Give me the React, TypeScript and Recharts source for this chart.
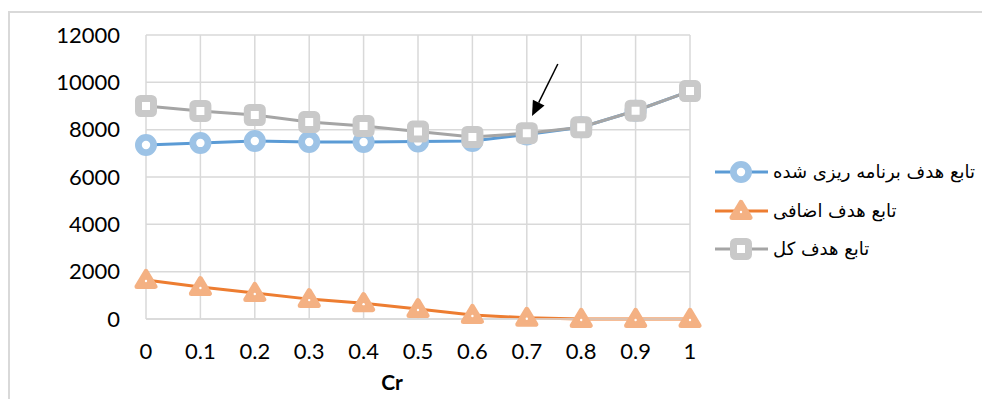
import React from 'react';
import { LineChart, Line, XAxis, YAxis, CartesianGrid, Legend, ReferenceLine } from 'recharts';

const crValues = [0, 0.1, 0.2, 0.3, 0.4, 0.5, 0.6, 0.7, 0.8, 0.9, 1];
const plannedCost = [7350, 7440, 7520, 7480, 7480, 7500, 7520, 7800, 8100, 8800, 9630];
const extraCost = [1650, 1350, 1100, 840, 670, 420, 170, 50, 0, 0, 0];
const totalCost = [9000, 8790, 8620, 8320, 8150, 7920, 7690, 7850, 8100, 8800, 9630];
const yTicks = [0, 2000, 4000, 6000, 8000, 10000, 12000];

const seriesNames = {
    planned: 'تابع هدف برنامه ریزی شده',
    extra: 'تابع هدف اضافی',
    total: 'تابع هدف کل',
};

// arrow pointing at the point where the two curves meet
const arrowFrom = { x: 0.757, y: 10775 };
const arrowTo = { x: 0.7096, y: 8577 };

const data = crValues.map((cr, i) => ({
    cr,
    planned: plannedCost[i],
    extra: extraCost[i],
    total: totalCost[i],
}));

const colors = {
    planned: { line: '#5b9bd5', marker: '#9dc3e6' },
    extra: { line: '#ed7d31', marker: '#f4b183' },
    total: { line: '#a5a5a5', marker: '#c9c9c9' },
};

const CircleMarker = ({ cx, cy }: any) => (
    <g>
        <circle cx={cx} cy={cy} r={7.6} fill="#fff" stroke={colors.planned.marker} strokeWidth={6.8} />
    </g>
);

const TriangleMarker = ({ cx, cy }: any) => (
    <g>
        <polygon
            points={`${cx},${cy - 8.5} ${cx + 9},${cy + 6.5} ${cx - 9},${cy + 6.5}`}
            fill={colors.extra.marker}
            stroke={colors.extra.marker}
            strokeWidth={5}
            strokeLinejoin="round"
        />
        <circle cx={cx} cy={cy + 1} r={1.2} fill="#fff" />
    </g>
);

const SquareMarker = ({ cx, cy }: any) => (
    <rect x={cx - 7.5} y={cy - 7.5} width={15} height={15} rx={2} fill="#fff" stroke={colors.total.marker} strokeWidth={7} />
);

const markerFor: Record<string, (p: any) => React.ReactElement> = {
    planned: CircleMarker,
    extra: TriangleMarker,
    total: SquareMarker,
};

// legend rows: sample line + marker, then the series name
const LegendContent = () => (
    <div style={{ width: 300 }}>
        {(['planned', 'extra', 'total'] as const).map((key) => {
            const Marker = markerFor[key];
            return (
                <div key={key} style={{ position: 'relative', height: 38.5 }}>
                    <svg width={55} height={26} style={{ position: 'absolute', left: 0, top: 6 }}>
                        <line x1={0} y1={13} x2={53} y2={13} stroke={colors[key].line} strokeWidth={3} />
                        <Marker cx={26} cy={13} />
                    </svg>
                    <span
                        style={{
                            position: 'absolute',
                            left: 58,
                            top: 6,
                            lineHeight: '26px',
                            fontFamily: '"DejaVu Sans"',
                            fontSize: 18,
                            color: '#000',
                            whiteSpace: 'nowrap',
                        }}
                    >
                        {seriesNames[key]}
                    </span>
                </div>
            );
        })}
    </div>
);

const Arrow = ({ x1, y1, x2, y2 }: any) => {
    const ang = Math.atan2(y2 - y1, x2 - x1);
    const len = 15;
    const half = 6.5;
    const bx = x2 - len * Math.cos(ang);
    const by = y2 - len * Math.sin(ang);
    const px = -Math.sin(ang) * half;
    const py = Math.cos(ang) * half;
    return (
        <g>
            <line x1={x1} y1={y1} x2={bx} y2={by} stroke="#000" strokeWidth={1.5} />
            <polygon points={`${x2},${y2} ${bx + px},${by + py} ${bx - px},${by - py}`} fill="#000" />
        </g>
    );
};

const tickStyle = { fill: '#000', fontSize: 22, fontFamily: 'Lato' };

const CrLabel = ({ viewBox }: any) => (
    <text
        x={viewBox.x + viewBox.width / 2 - 26}
        y={viewBox.y + 71}
        textAnchor="middle"
        fontFamily="Lato"
        fontWeight="bold"
        fontSize={21}
        fill="#000"
    >
        Cr
    </text>
);

const CostChart = () => {
    return (
        <div style={{ position: 'relative', width: 982, height: 391, background: '#fff' }}>
            <div
                style={{
                    position: 'absolute',
                    left: 0,
                    top: 3,
                    width: 982,
                    height: 388,
                    borderTop: '2px solid #d9d9d9',
                    borderLeft: '2px solid #d9d9d9',
                }}
            />
            <div style={{ position: 'absolute', left: 0, top: 0 }}>
                <LineChart width={982} height={391} data={data} margin={{ top: 27, right: 25, left: 0, bottom: 0 }}>
                    <CartesianGrid stroke="#d9d9d9" strokeWidth={1.5} />
                    <XAxis
                        dataKey="cr"
                        type="number"
                        domain={[0, 1]}
                        ticks={crValues}
                        height={80}
                        tick={tickStyle}
                        tickLine={false}
                        tickSize={0}
                        tickMargin={24}
                        axisLine={{ stroke: '#d9d9d9', strokeWidth: 1.5 }}
                        label={<CrLabel />}
                    />
                    <YAxis
                        domain={[0, 12000]}
                        ticks={yTicks}
                        width={138}
                        tick={tickStyle}
                        tickLine={false}
                        tickSize={0}
                        tickMargin={26}
                        axisLine={false}
                    />
                    <Legend
                        layout="vertical"
                        align="right"
                        verticalAlign="middle"
                        content={<LegendContent />}
                        wrapperStyle={{ left: 707, top: 145, width: 275, height: 116 }}
                    />
                    <Line
                        dataKey="planned"
                        name={seriesNames.planned}
                        stroke={colors.planned.line}
                        strokeWidth={3}
                        dot={CircleMarker}
                        activeDot={false}
                        isAnimationActive={false}
                    />
                    <Line
                        dataKey="extra"
                        name={seriesNames.extra}
                        stroke={colors.extra.line}
                        strokeWidth={3}
                        dot={TriangleMarker}
                        activeDot={false}
                        isAnimationActive={false}
                    />
                    <Line
                        dataKey="total"
                        name={seriesNames.total}
                        stroke={colors.total.line}
                        strokeWidth={3}
                        dot={SquareMarker}
                        activeDot={false}
                        isAnimationActive={false}
                    />
                    <ReferenceLine segment={[arrowFrom, arrowTo]} shape={<Arrow />} ifOverflow="visible" />
                </LineChart>
            </div>
        </div>
    );
};

export default function App() {
    return <CostChart />;
}
